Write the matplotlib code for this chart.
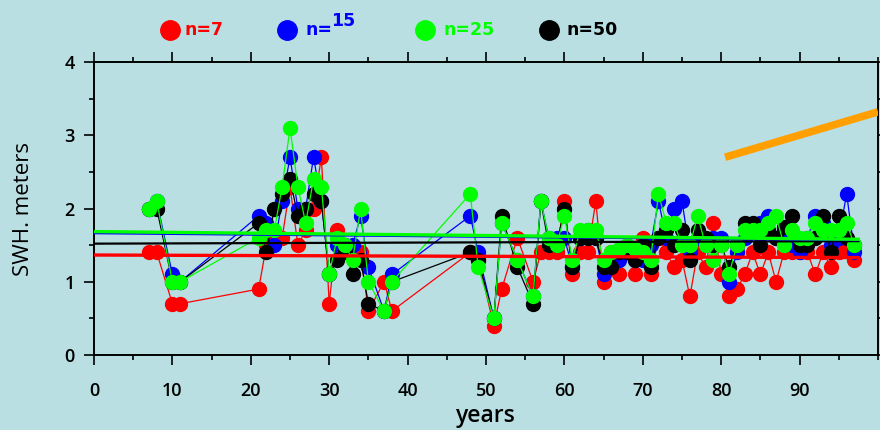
import matplotlib
matplotlib.use("Agg")
import matplotlib.pyplot as plt
from matplotlib.lines import Line2D
from matplotlib.ticker import MultipleLocator

years = [7, 8, 10, 11, 21, 22, 23, 24, 25, 26, 27, 28, 29, 30, 31, 32, 33, 34, 35, 37, 38,
         48, 49, 51, 52, 54, 56, 57, 58, 59, 60, 61, 62, 63, 64, 65, 66, 67, 68, 69, 70,
         71, 72, 73, 74, 75, 76, 77, 78, 79, 80, 81, 82, 83, 84, 85, 86, 87, 88, 89, 90,
         91, 92, 93, 94, 95, 96, 97]

swh_n7 = [1.4, 1.4, 0.7, 0.7, 0.9, 1.5, 1.6, 1.6, 2.3, 1.5, 1.7, 2.0, 2.7, 0.7, 1.7, 1.5, 1.4, 1.4, 0.6, 1.0, 0.6,
          1.4, 1.3, 0.4, 0.9, 1.6, 1.0, 1.4, 1.4, 1.4, 2.1, 1.1, 1.4, 1.4, 2.1, 1.0, 1.4, 1.1, 1.4, 1.1, 1.6,
          1.1, 1.6, 1.4, 1.2, 1.3, 0.8, 1.4, 1.2, 1.8, 1.1, 0.8, 0.9, 1.1, 1.4, 1.1, 1.4, 1.0, 1.4, 1.4, 1.4,
          1.4, 1.1, 1.4, 1.2, 1.4, 1.45, 1.3]

swh_n15 = [2.0, 2.1, 1.1, 1.0, 1.9, 1.8, 1.5, 2.1, 2.7, 2.0, 2.0, 2.7, 2.1, 1.1, 1.5, 1.5, 1.5, 1.9, 1.2, 0.6, 1.1,
           1.9, 1.4, 0.5, 1.8, 1.3, 0.8, 2.1, 1.6, 1.6, 1.6, 1.2, 1.6, 1.7, 1.6, 1.1, 1.3, 1.3, 1.4, 1.3, 1.3,
           1.5, 2.1, 1.6, 2.0, 2.1, 1.4, 1.6, 1.5, 1.6, 1.6, 1.0, 1.4, 1.6, 1.7, 1.8, 1.9, 1.6, 1.7, 1.5, 1.4,
           1.6, 1.9, 1.8, 1.5, 1.6, 2.2, 1.4]

swh_n25 = [2.0, 2.1, 1.0, 1.0, 1.6, 1.7, 1.7, 2.3, 3.1, 2.3, 1.8, 2.4, 2.3, 1.1, 1.6, 1.5, 1.3, 2.0, 1.0, 0.6, 1.0,
           2.2, 1.2, 0.5, 1.8, 1.3, 0.8, 2.1, 1.6, 1.5, 1.9, 1.3, 1.7, 1.7, 1.7, 1.3, 1.4, 1.45, 1.5, 1.45, 1.4,
           1.3, 2.2, 1.8, 1.8, 1.5, 1.5, 1.9, 1.5, 1.3, 1.5, 1.1, 1.5, 1.7, 1.7, 1.7, 1.8, 1.9, 1.5, 1.7, 1.6,
           1.6, 1.8, 1.7, 1.7, 1.7, 1.8, 1.5]

swh_n50 = [2.0, 2.0, 1.0, 1.0, 1.8, 1.4, 2.0, 2.2, 2.4, 1.9, 2.0, 2.2, 2.1, 1.1, 1.3, 1.4, 1.1, 1.3, 0.7, 0.6, 1.0,
           1.4, 1.3, 0.5, 1.9, 1.2, 0.7, 2.1, 1.5, 1.5, 2.0, 1.2, 1.6, 1.6, 1.6, 1.2, 1.2, 1.4, 1.4, 1.3, 1.5,
           1.2, 1.6, 1.7, 1.5, 1.7, 1.3, 1.7, 1.6, 1.5, 1.5, 1.2, 1.5, 1.8, 1.8, 1.5, 1.7, 1.6, 1.75, 1.9, 1.5,
           1.5, 1.6, 1.9, 1.4, 1.9, 1.6, 1.5]

trend_x = [0, 97.5]
trend_n7 = [1.365, 1.33]
trend_n15 = [1.665, 1.57]
trend_n25 = [1.685, 1.58]
trend_n50 = [1.52, 1.555]

orange_x = [80.5, 100]
orange_y = [2.70, 3.32]

labels = ["n=7", "n=15", "n=25", "n=50"]
colors = ["#ff0000", "#0000ff", "#00ff00", "#000000"]

BG = "#b9dfe3"
FONT = ["Open Sans", "DejaVu Sans"]
plt.rcParams["font.family"] = FONT

fig = plt.figure(figsize=(8.8, 4.3), dpi=100, facecolor=BG)
ax = fig.add_axes([94 / 880, 75 / 430, (878 - 94) / 880, (355 - 62) / 430])
ax.set_facecolor(BG)

series = [swh_n7, swh_n15, swh_n50, swh_n25]
scol = [colors[0], colors[1], colors[3], colors[2]]
for vals, c in zip(series, scol):
    ax.plot(years, vals, color=c, lw=0.9, marker="o", ms=10, mec=c, mfc=c, zorder=3)

ax.plot(trend_x, trend_n50, color=colors[3], lw=1.6, zorder=4)
ax.plot(trend_x, trend_n7, color=colors[0], lw=2.4, zorder=4)
ax.plot(trend_x, trend_n15, color=colors[1], lw=1.8, zorder=4)
ax.plot(trend_x, trend_n25, color=colors[2], lw=2.4, zorder=4)

ax.plot(orange_x, orange_y, color="#ffa000", lw=5.5, solid_capstyle="butt", zorder=4)

ax.set_xlim(0, 100)
ax.set_ylim(0, 4)
ax.xaxis.set_major_locator(MultipleLocator(10))
ax.xaxis.set_minor_locator(MultipleLocator(5))
ax.yaxis.set_major_locator(MultipleLocator(1))
ax.yaxis.set_minor_locator(MultipleLocator(0.5))
ax.set_xticks(range(0, 100, 10))
ax.tick_params(which="both", direction="out", top=True, right=True, width=1.2, color="black")
ax.tick_params(which="major", length=7)
ax.tick_params(which="minor", length=3.5)
ax.tick_params(axis="x", which="major", pad=12.5, labelsize=13)
ax.tick_params(axis="y", which="major", pad=7, labelsize=13)
for lab in ax.get_xticklabels() + ax.get_yticklabels():
    lab.set_fontweight("semibold")
for s in ax.spines.values():
    s.set_linewidth(1.4)

ax.set_xlabel("years", fontsize=16.5, fontweight="semibold", labelpad=3)
ax.set_ylabel("SWH. meters", fontsize=16, labelpad=22)

# legend row above the plot
leg_circle_x = [170, 287, 425, 549]
leg_text_x = [184, 305, 443, 566]
ly = 430 - 30
LEGFONT = ["DejaVu Sans"]
for i in range(4):
    fig.add_artist(Line2D([leg_circle_x[i] / 880], [ly / 430], marker="o", ms=14,
                          color=colors[i], mec=colors[i], transform=fig.transFigure))
    if i == 1:
        fig.text(leg_text_x[i] / 880, ly / 430, "n=", color=colors[i], fontsize=12.5,
                 family=LEGFONT, fontweight="bold", va="center", ha="left")
        fig.text(331 / 880, (430 - 21) / 430, "15", color=colors[i], fontsize=12.5,
                 family=LEGFONT, fontweight="bold", va="center", ha="left")
    else:
        fig.text(leg_text_x[i] / 880, ly / 430, labels[i], color=colors[i], fontsize=12.5,
                 family=LEGFONT, fontweight="bold", va="center", ha="left")

fig.savefig("out.png", dpi=100, facecolor=BG)
